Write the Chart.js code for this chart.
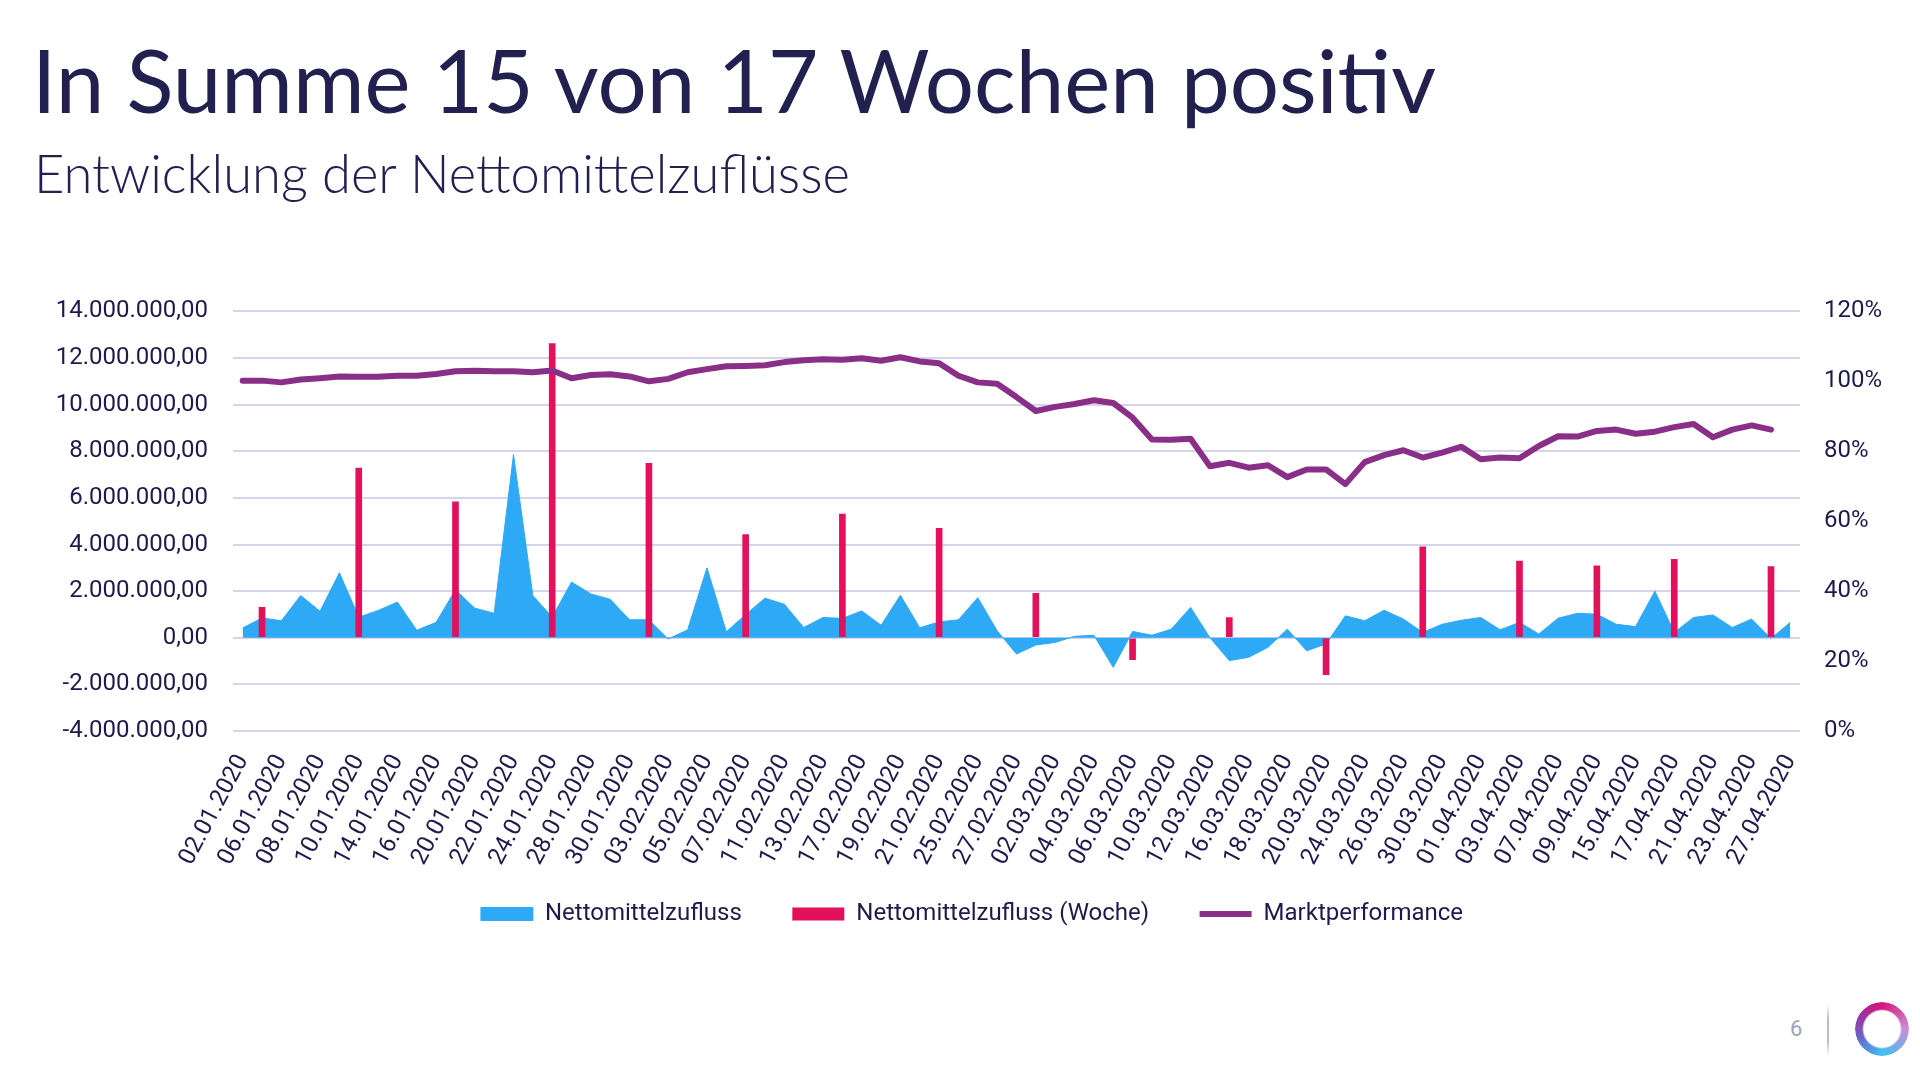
<!DOCTYPE html>
<html>
<head>
<meta charset="utf-8">
<script src="https://cdn.jsdelivr.net/npm/chart.js@4.4.0/dist/chart.umd.min.js"></script>
<style>
html,body{margin:0;padding:0;background:#fff;}
body{width:1920px;height:1080px;position:relative;overflow:hidden;font-family:Lato,'Noto Sans',sans-serif;}
#title{position:absolute;left:32px;top:36px;font-size:87px;font-weight:400;color:#22204f;line-height:1;white-space:nowrap;}
#subtitle{position:absolute;left:34px;top:147px;font-size:52.5px;font-weight:300;color:#22204f;line-height:1;white-space:nowrap;}
#wrap{position:absolute;left:0;top:272px;width:1920px;height:664px;}
#pnum{position:absolute;left:1790px;top:1016px;font-family:Roboto,sans-serif;font-size:22px;color:#a4a3b8;}
#sep{position:absolute;left:1827px;top:1004px;width:2px;height:52px;background:linear-gradient(#ffffff,#b9b8cc 30%,#b9b8cc 70%,#ffffff);}
#logo{position:absolute;left:1855px;top:1002px;width:54px;height:54px;border-radius:50%;
 background:conic-gradient(from 0deg,#d8157a,#c88fd6 90deg,#3fc0ee 180deg,#6a63c8 250deg,#a32d96 310deg,#d8157a);
 -webkit-mask:radial-gradient(circle,transparent 18px,#000 20px);mask:radial-gradient(circle,transparent 18px,#000 20px);}
</style>
</head>
<body>
<div id="title">In Summe 15 von 17 Wochen positiv</div>
<div id="subtitle">Entwicklung der Nettomittelzuflüsse</div>
<div id="wrap"><canvas id="c"></canvas></div>
<div id="pnum">6</div>
<div id="sep"></div>
<div id="logo"></div>
<script>
// ---- data ----
const dates = [
 '02.01.2020','03.01.2020','06.01.2020','07.01.2020','08.01.2020','09.01.2020','10.01.2020','13.01.2020','14.01.2020','15.01.2020',
 '16.01.2020','17.01.2020','20.01.2020','21.01.2020','22.01.2020','23.01.2020','24.01.2020','27.01.2020','28.01.2020','29.01.2020',
 '30.01.2020','31.01.2020',
 '03.02.2020','04.02.2020','05.02.2020','06.02.2020','07.02.2020','10.02.2020','11.02.2020','12.02.2020','13.02.2020','14.02.2020',
 '17.02.2020','18.02.2020','19.02.2020','20.02.2020','21.02.2020','24.02.2020','25.02.2020','26.02.2020','27.02.2020','28.02.2020',
 '02.03.2020','03.03.2020','04.03.2020','05.03.2020','06.03.2020','09.03.2020','10.03.2020','11.03.2020','12.03.2020','13.03.2020',
 '16.03.2020','17.03.2020','18.03.2020','19.03.2020','20.03.2020','23.03.2020','24.03.2020','25.03.2020','26.03.2020','27.03.2020',
 '30.03.2020','31.03.2020',
 '01.04.2020','02.04.2020','03.04.2020','06.04.2020','07.04.2020','08.04.2020','09.04.2020','14.04.2020','15.04.2020','16.04.2020',
 '17.04.2020','20.04.2020','21.04.2020','22.04.2020','23.04.2020','24.04.2020','27.04.2020'
];
// daily net inflow, in million EUR
const dailyInflowMio = [
 0.42,0.85,0.73,1.81,1.14,2.79,0.88,1.17,1.53,0.32,
 0.66,2.06,1.27,1.05,7.86,1.81,0.88,2.39,1.88,1.65,
 0.77,0.77,
 -0.05,0.34,3.00,0.26,1.00,1.70,1.44,0.44,0.87,0.83,
 1.15,0.54,1.82,0.43,0.68,0.77,1.72,0.30,-0.70,-0.31,
 -0.20,0.06,0.11,-1.27,0.27,0.11,0.37,1.30,0.00,-0.98,
 -0.84,-0.41,0.37,-0.56,-0.27,0.94,0.73,1.18,0.80,0.23,
 0.58,0.75,
 0.87,0.34,0.66,0.16,0.84,1.05,1.01,0.58,0.48,2.00,
 0.23,0.87,0.98,0.44,0.80,-0.03,0.66
];
// weekly net inflow (end of week), in million EUR
const weekEndDates = ['03.01.2020','10.01.2020','17.01.2020','24.01.2020','31.01.2020','07.02.2020','14.02.2020','21.02.2020','28.02.2020',
 '06.03.2020','13.03.2020','20.03.2020','27.03.2020','03.04.2020','09.04.2020','17.04.2020','24.04.2020'];
const weeklyInflowMio = [1.30,7.28,5.83,12.62,7.48,4.43,5.31,4.69,1.91,-0.94,0.87,-1.58,3.90,3.29,3.09,3.36,3.05];
// market performance in %
const marketPerformancePct = [
 100.2,100.2,99.7,100.5,100.9,101.4,101.3,101.3,101.6,101.6,
 102.1,102.9,103.0,102.9,102.9,102.6,103.1,100.9,101.8,102.0,
 101.4,100.0,
 100.7,102.6,103.5,104.3,104.4,104.6,105.5,106.0,106.3,106.2,
 106.6,105.9,106.9,105.7,105.2,101.6,99.7,99.3,95.5,91.5,
 92.7,93.5,94.6,93.8,89.6,83.4,83.3,83.6,75.7,76.7,
 75.3,76.0,72.6,74.8,74.8,70.6,76.9,78.9,80.3,78.2,
 79.6,81.3,
 77.7,78.2,78.0,81.5,84.3,84.2,85.8,86.2,85.0,85.6,
 86.9,87.8,84.0,86.2,87.4,86.2,null
];
const leftTicksMio = [-4,-2,0,2,4,6,8,10,12,14];
const rightTicksPct = [0,20,40,60,80,100,120];
const seriesNames = ['Nettomittelzufluss','Nettomittelzufluss (Woche)','Marktperformance'];

// ---- helpers ----
function deFormat(v){
  const neg = v < 0;
  const s = Math.abs(Math.round(v)).toString().replace(/\B(?=(\d{3})+(?!\d))/g,'.');
  return (neg ? '-' : '') + s + ',00';
}
const weeklySeries = dates.map(d => { const k = weekEndDates.indexOf(d); return k >= 0 ? weeklyInflowMio[k]*1e6 : null; });
const navy = '#1d1b4c';
const tickFont = {family:'Roboto', size:24};
const defaultLabels = Chart.defaults.plugins.legend.labels.generateLabels;

new Chart(document.getElementById('c'), {
  type: 'bar',
  data: {
    labels: dates,
    datasets: [
      {type:'line', label:seriesNames[0], data:dailyInflowMio.map(v=>v*1e6), backgroundColor:'#2ea9f6', borderColor:'#2ea9f6',
       borderWidth:1, fill:'origin', pointRadius:0, pointHoverRadius:0, tension:0, yAxisID:'y', order:3, pointStyle:'rect'},
      {type:'bar', label:seriesNames[1], data:weeklySeries, backgroundColor:'#e3105b', borderWidth:0, barThickness:6,
       yAxisID:'y', order:2, pointStyle:'rect'},
      {type:'line', label:seriesNames[2], data:marketPerformancePct, borderColor:'#8a2f87', backgroundColor:'#8a2f87',
       borderWidth:6, pointRadius:0, pointHoverRadius:0, fill:false, tension:0, yAxisID:'y1', order:1, pointStyle:'line',
       borderJoinStyle:'round', borderCapStyle:'round'}
    ]
  },
  options: {
    responsive:true, maintainAspectRatio:false, animation:false, devicePixelRatio:1,
    layout:{padding:{left:24,right:0,top:0,bottom:0}},
    plugins:{
      tooltip:{enabled:false},
      legend:{position:'bottom', labels:{usePointStyle:true, pointStyleWidth:52, boxHeight:13, padding:26,
        font:{family:'Roboto', size:24}, color:navy,
        sort:(a,b)=>a.datasetIndex-b.datasetIndex,
        generateLabels:(chart)=>defaultLabels(chart).map(it=>{ if(it.datasetIndex<2){ it.text = it.text + '\u2003'; } return it; })}}
    },
    scales:{
      x:{offset:true, grid:{display:false, drawTicks:false}, border:{display:false},
        ticks:{autoSkip:false, maxRotation:62, minRotation:62, color:navy, font:tickFont, padding:19,
          callback:(v,i)=> i%2===0 ? dates[i] : ''},
        afterFit:s=>{s.height=145;}},
      y:{position:'left', min:leftTicksMio[0]*1e6, max:leftTicksMio[leftTicksMio.length-1]*1e6,
        ticks:{stepSize:(leftTicksMio[1]-leftTicksMio[0])*1e6, callback:v=>deFormat(v), color:navy, font:tickFont, padding:25},
        grid:{color:'#d6d4ea', lineWidth:2, drawTicks:false}, border:{display:false},
        afterFit:s=>{s.width=209;}},
      y1:{position:'right', min:rightTicksPct[0], max:rightTicksPct[rightTicksPct.length-1],
        ticks:{stepSize:rightTicksPct[1]-rightTicksPct[0], callback:v=>Math.round(v)+'%', color:navy, font:tickFont, padding:24},
        grid:{display:false, drawTicks:false}, border:{display:false},
        afterFit:s=>{s.width=120;}}
    }
  }
});
</script>
</body>
</html>
